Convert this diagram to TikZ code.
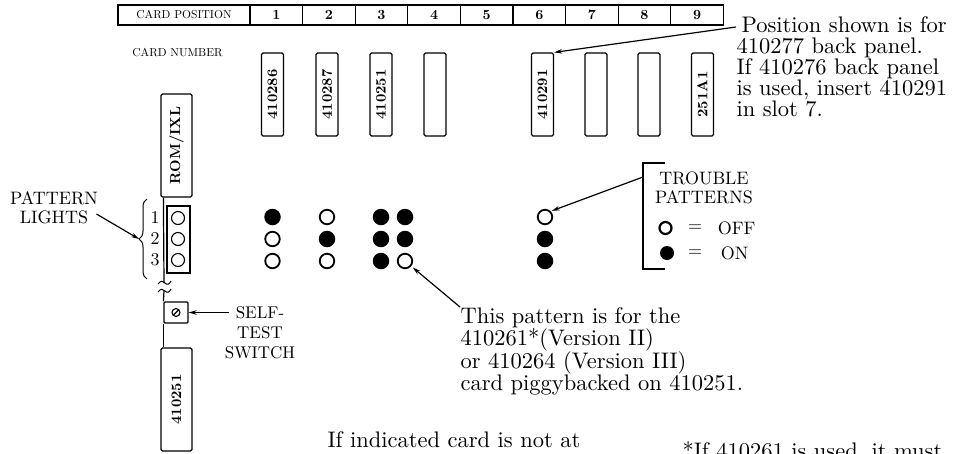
\documentclass[tikz,border=0pt]{standalone}
\usepackage{fontspec}
\setmainfont{lmroman10-regular}[Extension=.otf, BoldFont=lmroman10-bold]
\usepackage{graphicx}
\usetikzlibrary{positioning,arrows.meta,decorations.pathreplacing}

\newcommand{\cardtext}[1]{\rotatebox{90}{#1}}

\tikzset{
  card/.style={draw, rounded corners=1.5pt, minimum width=22pt, minimum height=83pt,
    inner sep=0pt, font=\fontsize{14.5}{16}\selectfont\bfseries},
  bigcard/.style={card, minimum width=31pt, minimum height=103pt},
  cell/.style={draw, minimum width=52.6pt, minimum height=20pt, inner sep=0pt,
    outer sep=0pt, font=\fontsize{14}{16}\selectfont\bfseries},
  ledon/.style={circle, fill, inner sep=0pt, minimum size=16.5pt},
  ledoff/.style={circle, draw, line width=1.8pt, inner sep=0pt, minimum size=14.5pt},
  lamp/.style={circle, draw, line width=1.1pt, inner sep=0pt, minimum size=13pt},
  note/.style={inner sep=0pt, align=left, font=\fontsize{22.5}{21}\selectfont},
  caps/.style={inner sep=0pt, align=center, font=\fontsize{18}{19}\selectfont},
  small/.style={inner sep=0pt, font=\fontsize{11.5}{13}\selectfont}
}

\begin{document}
\begin{tikzpicture}[x=1pt, y=-1pt, line width=1.2pt, >={Stealth[length=8pt, width=4.5pt]}]
  \useasboundingbox (0,0) rectangle (961,453);
  \clip (0,0) rectangle (961,453);

  % header row
  \node[cell, minimum width=132pt, font=\fontsize{11.5}{13}\selectfont] (cardpos) at (184,15) {CARD POSITION};
  \node[cell, right=0pt of cardpos] (p1) {1};
  \node[cell, right=0pt of p1] (p2) {2};
  \node[cell, right=0pt of p2] (p3) {3};
  \node[cell, right=0pt of p3] (p4) {4};
  \node[cell, right=0pt of p4] (p5) {5};
  \node[cell, right=0pt of p5] (p6) {6};
  \node[cell, right=0pt of p6] (p7) {7};
  \node[cell, right=0pt of p7] (p8) {8};
  \node[cell, right=0pt of p8] (p9) {9};
  \node[small] (cardnum) at (177.5,53) {CARD NUMBER};

  % cards in the slots
  \node[card] (c1) at (272.5,94.5) {\cardtext{410286}};
  \node[card] (c2) at (327,94.5) {\cardtext{410287}};
  \node[card] (c3) at (381,94.5) {\cardtext{410251}};
  \node[card] (c4) at (435,94.5) {};
  \node[card] (c6) at (542.5,94.5) {\cardtext{410291}};
  \node[card] (c7) at (596,94.5) {};
  \node[card] (c8) at (649,94.5) {};
  \node[card] (c9) at (702.5,94.5) {\cardtext{251A1}};
  \node[note, anchor=north west] (posnote) at (736,16)
    {\hspace*{5pt}Position shown is for\\410277 back panel.\\If 410276 back panel\\is used, insert 410291\\in slot 7.};
  \draw[->] ([yshift=-11pt]posnote.north west) -- (c6.north east);

  % side cards, lights and switch
  \node[bigcard] (rom) at (176.5,145.5) {\cardtext{ROM/IXL}};
  \node[draw, minimum width=23pt, minimum height=67pt, inner sep=0pt] (lbox) at (178.5,239.5) {};
  \node[lamp] (l1) at (178,218) {};
  \node[lamp] (l2) at (178,239) {};
  \node[lamp] (l3) at (178,260) {};
  \node[caps] (n1) at (155,218) {1};
  \node[caps] (n2) at (155,239) {2};
  \node[caps] (n3) at (155,260) {3};
  \draw[line width=1pt, decorate, decoration={brace, amplitude=8pt}] (147,279) -- (147,199);
  \coordinate (btip) at (139,239);
  \node[caps, anchor=north] (plights) at (54,191) {PATTERN\\LIGHTS};
  \draw[->] ([xshift=-2pt, yshift=-23pt]plights.north east) -- (btip);

  \node[draw, rounded corners=1pt, minimum width=24pt, minimum height=21pt, inner sep=0pt] (sw) at (176,312.5) {};
  \draw[line width=1.1pt] (sw.center) circle (4pt);
  \draw[line width=1.1pt] ([shift={(-2.8pt,-2.8pt)}]sw.center) -- ([shift={(2.8pt,2.8pt)}]sw.center);
  \node[bigcard] (bot) at (176.5,399.5) {\cardtext{410251}};
  \coordinate (brkA) at (164,283);
  \coordinate (brkB) at (164,291);
  \draw (rom.south -| sw.west) -- (brkA);
  \draw (brkB) -- (sw.north west);
  \draw (sw.south west) -- (bot.north -| sw.west);
  \draw[line width=1pt] (158,284) .. controls (161,280) and (163,281) .. (165,283) .. controls (167,285) and (169,285) .. (171,281);
  \draw[line width=1pt] (158,292) .. controls (161,288) and (163,289) .. (165,291) .. controls (167,293) and (169,293) .. (171,289);
  \node[caps, font=\fontsize{17}{20}\selectfont, anchor=north] (selftest) at (260,306) {SELF-\\TEST\\SWITCH};
  \draw[->] ([xshift=5pt]selftest.west |- sw.east) -- (sw.east);

  % trouble patterns
  \node[ledon] (d1a) at (272.5,217) {};
  \node[ledoff] (d1b) at (272.5,239) {};
  \node[ledoff] (d1c) at (272.5,261) {};
  \node[ledoff] (d2a) at (327,217) {};
  \node[ledon] (d2b) at (327,239) {};
  \node[ledoff] (d2c) at (327,261) {};
  \node[ledon] (d3a) at (381,217) {};
  \node[ledon] (d3b) at (381,239) {};
  \node[ledon] (d3c) at (381,261) {};
  \node[ledon] (d4a) at (405,217) {};
  \node[ledon] (d4b) at (405,239) {};
  \node[ledoff] (d4c) at (405,261) {};
  \node[ledoff] (d6a) at (545,217) {};
  \node[ledon] (d6b) at (545,239) {};
  \node[ledon] (d6c) at (545,261) {};
  \node[note, anchor=north west, font=\fontsize{22.5}{22}\selectfont] (pnote) at (460,307)
    {This pattern is for the\\410261*(Version II)\\or 410264 (Version III)\\card piggybacked on 410251.};
  \draw[->, shorten >=2pt] (pnote.north west) -- (d4c);

  % legend
  \coordinate (brtop) at (643,163);
  \coordinate (brbot) at (643,269);
  \draw (brtop) ++(22,0) -- (brtop) -- (brbot) -- ++(22,0);
  \node[caps, anchor=north] (trouble) at (704,171) {TROUBLE\\PATTERNS};
  \draw[->, shorten >=1pt] ([yshift=-14pt]brtop) -- (d6a.north east);
  \node[ledoff, line width=2.2pt, minimum size=12pt] (keyoff) at (665.5,228) {};
  \node[caps] (eqoff) at (695,228) {=};
  \node[caps] (txtoff) at (736.5,228) {OFF};
  \node[ledon, minimum size=14pt] (keyon) at (667,253) {};
  \node[caps] (eqon) at (695,253) {=};
  \node[caps] (txton) at (734.5,253) {ON};

  % notes at the foot
  \node[note, anchor=base west] (notat) at (327,447) {If indicated card is not at};
  \node[note, anchor=base west] (mustnote) at (682,458) {*If 410261 is used, it must};
\end{tikzpicture}
\end{document}
